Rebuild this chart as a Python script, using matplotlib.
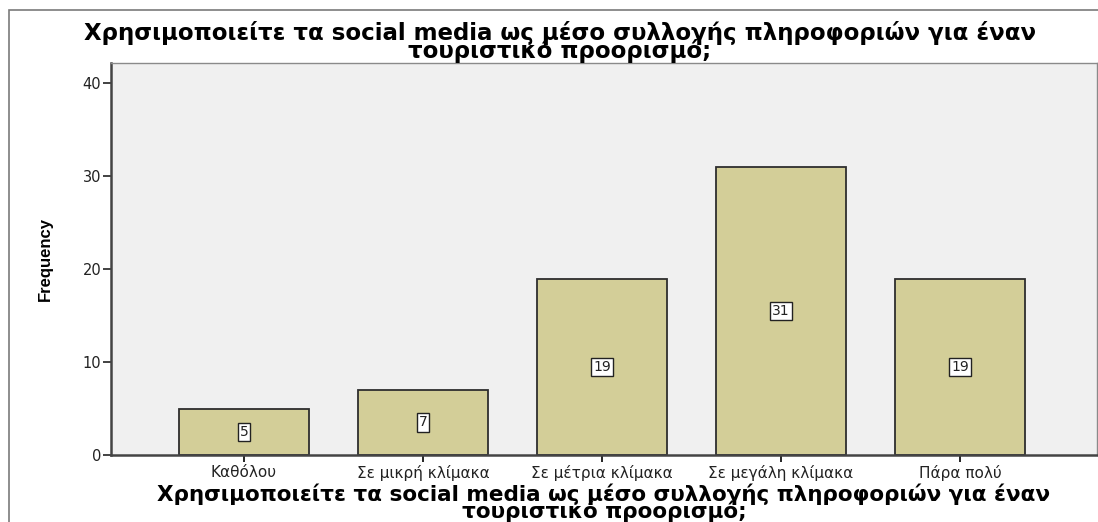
import matplotlib.pyplot as plt
from matplotlib.patches import Rectangle

categories = ['Καθόλου', 'Σε μικρή κλίμακα', 'Σε μέτρια κλίμακα',
              'Σε μεγάλη κλίμακα', 'Πάρα πολύ']
counts = [5, 7, 19, 31, 19]
yticks = [0, 10, 20, 30, 40]
question = 'Χρησιμοποιείτε τα social media ως μέσο συλλογής πληροφοριών για έναν\nτουριστικό προορισμό;'

bar_color = '#D3CE98'
panel_color = '#F0F0F0'

fig = plt.figure(figsize=(10.98, 5.22), dpi=100)
W, H = 1098, 522

# outer chart frame
fig.patches.append(Rectangle((9 / W, -0.1), 1.2, 1.1 - 10 / H, transform=fig.transFigure,
                             fill=False, edgecolor='#7a7a7a', linewidth=1.2))

ax = fig.add_axes([111 / W, 1 - 455 / H, (1097 - 111) / W, (455 - 63) / H])
ax.set_facecolor(panel_color)

x = list(range(len(categories)))
ax.bar(x, counts, width=0.73, color=bar_color, edgecolor='#2e2e2e', linewidth=1.3, zorder=2)

for xi, c in zip(x, counts):
    ax.text(xi, c / 2, str(c), ha='center', va='center', fontsize=10, family='DejaVu Sans',
            color='#222222', zorder=3,
            bbox=dict(boxstyle='square,pad=0.15', facecolor='white', edgecolor='#222222', linewidth=1))

ax.set_xlim(-0.743, 4.765)
ax.set_ylim(0, 42.2)
ax.set_yticks(yticks)
ax.set_xticks(x)
ax.set_xticklabels(categories, fontsize=11, family='DejaVu Sans', color='#222222')
ax.tick_params(axis='y', labelsize=10.5, colors='#222222', length=6, width=1.2, pad=1)
ax.tick_params(axis='x', length=5, width=1.2, pad=2)

for side in ('left', 'bottom'):
    ax.spines[side].set_color('#444444')
    ax.spines[side].set_linewidth(1.8)
for side in ('top', 'right'):
    ax.spines[side].set_color('#8a8a8a')
    ax.spines[side].set_linewidth(1.0)

ax.set_ylabel('Frequency', fontsize=12, fontweight='bold',
              family='Liberation Sans', labelpad=21)

fig.text(560 / W, 1 - 42 / H, question, ha='center', va='center', fontsize=16.5,
         fontweight='bold', family='DejaVu Sans', linespacing=0.72)
fig.text(604 / W, 1 - 503 / H, question, ha='center', va='center', fontsize=15.5,
         fontweight='bold', family='DejaVu Sans', linespacing=0.72)

fig.savefig('out.png', dpi=100)
